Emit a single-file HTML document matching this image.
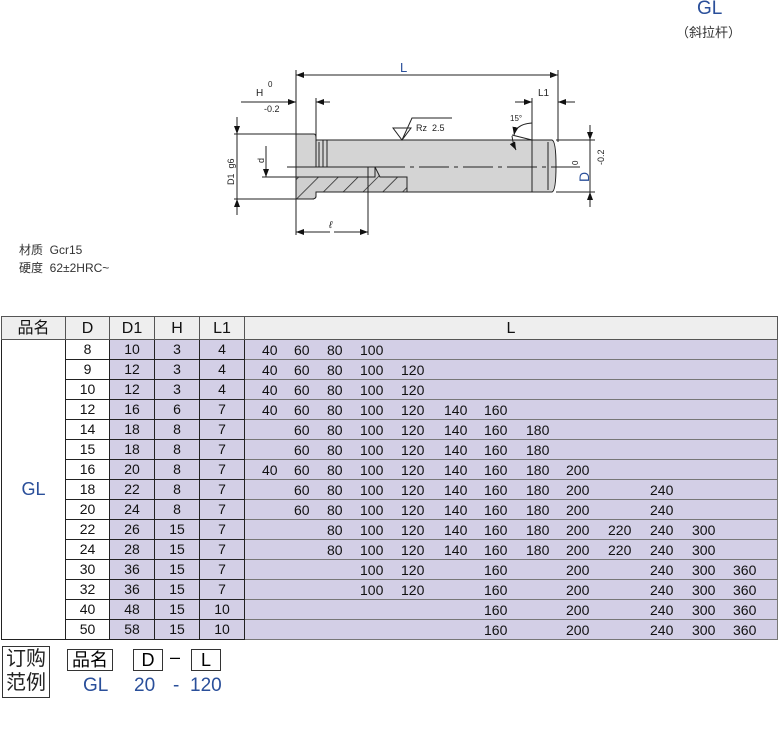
<!DOCTYPE html><html><head><meta charset="utf-8"><style>
body{margin:0;width:780px;height:739px;background:#fff;position:relative;font-family:"Liberation Sans","Noto Sans CJK SC",sans-serif;overflow:hidden}
.a{position:absolute}
table{position:absolute;left:1px;top:316px;border-collapse:collapse;table-layout:fixed;font-size:14px;color:#111}
td{border:1px solid #222;height:19px;padding:0;text-align:center;background:#d3cfe6;line-height:19px}
tr.h td{background:#eee;height:22px;font-size:16px;border-color:#555}
td.w{background:#fff}
td.L{position:relative;text-align:left;border-color:#777}
td.L span{position:absolute;top:1px}
</style></head><body>
<div class="a" style="left:697px;top:-2px;font-size:19px;color:#2a4f9a">GL</div>
<div class="a" style="left:676px;top:22px;font-size:13px;color:#333">（斜拉杆）</div>
<div class="a" style="left:19px;top:241px;font-size:12px;color:#333;line-height:18px">材质&nbsp; Gcr15<br>硬度&nbsp; 62±2HRC~</div>
<svg class="a" style="left:0;top:0" width="780" height="300" font-family="Liberation Sans,sans-serif">
<defs><pattern id="hh" width="14" height="14" patternUnits="userSpaceOnUse" patternTransform="rotate(45)"><rect width="14" height="14" fill="#cfcfcf"/><line x1="0" y1="0" x2="0" y2="14" stroke="#222" stroke-width="1.5"/></pattern>
<marker id="ar" markerWidth="8" markerHeight="6" refX="8" refY="3" orient="auto"><path d="M0,0L8,3L0,6z" fill="#111"/></marker></defs>
<g stroke="#222" stroke-width="1" fill="none">
<!-- body -->
<path d="M296,134H314Q316,134 316,138V140H552Q556,141 556,166Q556,191 552,192H316V196Q316,199 312,199H296Z" fill="#d4d4d4"/>
<path d="M296,167H375L380,177H407V192H316V196Q316,199 312,199H296Z" fill="url(#hh)"/>
<rect x="296" y="167" width="79" height="10" fill="#d4d4d4"/>
<line x1="316" y1="140" x2="316" y2="167"/><line x1="319" y1="142" x2="319" y2="167"/><line x1="323" y1="140" x2="323" y2="167"/><line x1="327" y1="140" x2="327" y2="167"/>
<line x1="532" y1="140" x2="532" y2="192"/><line x1="548" y1="142" x2="548" y2="190"/>
<line x1="287" y1="167" x2="580" y2="167" stroke-dasharray="30,5,4,5"/>
<!-- L dim -->
<line x1="296" y1="70" x2="296" y2="235"/><line x1="558" y1="70" x2="558" y2="142"/>
<line x1="296" y1="75" x2="558" y2="75" marker-end="url(#ar)"/><line x1="558" y1="75" x2="296" y2="75" marker-end="url(#ar)"/>
<!-- H -->
<line x1="316" y1="98" x2="316" y2="140"/>
<line x1="241" y1="102" x2="296" y2="102" marker-end="url(#ar)"/><line x1="330" y1="102" x2="316" y2="102" marker-end="url(#ar)"/>
<!-- L1 -->
<line x1="532" y1="98" x2="532" y2="140"/>
<line x1="515" y1="102" x2="532" y2="102" marker-end="url(#ar)"/><line x1="575" y1="102" x2="558" y2="102" marker-end="url(#ar)"/>
<!-- D1 -->
<line x1="234" y1="134" x2="296" y2="134"/><line x1="234" y1="199" x2="314" y2="199"/>
<line x1="237" y1="117" x2="237" y2="134" marker-end="url(#ar)"/><line x1="237" y1="215" x2="237" y2="199" marker-end="url(#ar)"/><line x1="237" y1="134" x2="237" y2="199"/>
<!-- d -->
<line x1="262" y1="177" x2="296" y2="177"/>
<line x1="266" y1="146" x2="266" y2="177" marker-end="url(#ar)"/>
<!-- D -->
<line x1="556" y1="140" x2="595" y2="140"/><line x1="556" y1="192" x2="595" y2="192"/>
<line x1="590" y1="125" x2="590" y2="140" marker-end="url(#ar)"/><line x1="590" y1="207" x2="590" y2="192" marker-end="url(#ar)"/><line x1="590" y1="140" x2="590" y2="192"/>
<!-- l -->
<line x1="368" y1="167" x2="368" y2="235"/>
<line x1="330" y1="232" x2="296" y2="232" marker-end="url(#ar)"/><line x1="334" y1="232" x2="368" y2="232" marker-end="url(#ar)"/>
<!-- Rz -->
<path d="M393,128H411L402,140Z M402,140L412,118H452"/>
<!-- 15 -->
<path d="M532,123Q516,124 514,135" marker-end="url(#ar)"/><path d="M512,136Q513,144 516,150" marker-end="url(#ar)"/>
<line x1="512" y1="135" x2="532" y2="140"/>
</g>
<g font-size="10" fill="#222">
<text x="400" y="72" font-size="13" fill="#2a4f9a">L</text>
<text x="256" y="96">H</text><text x="268" y="87" font-size="8">0</text><text x="264" y="112" font-size="9">-0.2</text>
<text x="538" y="96">L1</text>
<text x="416" y="131" font-size="9">Rz&#160; 2.5</text>
<text x="510" y="121" font-size="8">15°</text>
<text x="329" y="228" font-style="italic">ℓ</text>
<text transform="translate(234,185) rotate(-90)" font-size="9">D1&#160; g6</text>
<text transform="translate(264,163) rotate(-90)" font-size="9">d</text>
<text transform="translate(589,182) rotate(-90)" font-size="14" fill="#2a4f9a">D</text>
<text transform="translate(604,165) rotate(-90)" font-size="9">-0.2</text>
<text transform="translate(578,165) rotate(-90)" font-size="8">0</text>
</g></svg>
<table>
<colgroup><col style="width:64px"><col style="width:44px"><col style="width:45px"><col style="width:45px"><col style="width:45px"><col style="width:533px"></colgroup>
<tr class="h"><td>品名</td><td>D</td><td>D1</td><td>H</td><td>L1</td><td>L</td></tr>
<tr><td class="w" rowspan="15" style="color:#2a4f9a;font-size:18px;border-color:#222">GL</td><td class="w">8</td><td>10</td><td>3</td><td>4</td><td class="L"><span style="left:17px">40</span><span style="left:49px">60</span><span style="left:82px">80</span><span style="left:115px">100</span></td></tr>
<tr><td class="w">9</td><td>12</td><td>3</td><td>4</td><td class="L"><span style="left:17px">40</span><span style="left:49px">60</span><span style="left:82px">80</span><span style="left:115px">100</span><span style="left:156px">120</span></td></tr>
<tr><td class="w">10</td><td>12</td><td>3</td><td>4</td><td class="L"><span style="left:17px">40</span><span style="left:49px">60</span><span style="left:82px">80</span><span style="left:115px">100</span><span style="left:156px">120</span></td></tr>
<tr><td class="w">12</td><td>16</td><td>6</td><td>7</td><td class="L"><span style="left:17px">40</span><span style="left:49px">60</span><span style="left:82px">80</span><span style="left:115px">100</span><span style="left:156px">120</span><span style="left:199px">140</span><span style="left:239px">160</span></td></tr>
<tr><td class="w">14</td><td>18</td><td>8</td><td>7</td><td class="L"><span style="left:49px">60</span><span style="left:82px">80</span><span style="left:115px">100</span><span style="left:156px">120</span><span style="left:199px">140</span><span style="left:239px">160</span><span style="left:281px">180</span></td></tr>
<tr><td class="w">15</td><td>18</td><td>8</td><td>7</td><td class="L"><span style="left:49px">60</span><span style="left:82px">80</span><span style="left:115px">100</span><span style="left:156px">120</span><span style="left:199px">140</span><span style="left:239px">160</span><span style="left:281px">180</span></td></tr>
<tr><td class="w">16</td><td>20</td><td>8</td><td>7</td><td class="L"><span style="left:17px">40</span><span style="left:49px">60</span><span style="left:82px">80</span><span style="left:115px">100</span><span style="left:156px">120</span><span style="left:199px">140</span><span style="left:239px">160</span><span style="left:281px">180</span><span style="left:321px">200</span></td></tr>
<tr><td class="w">18</td><td>22</td><td>8</td><td>7</td><td class="L"><span style="left:49px">60</span><span style="left:82px">80</span><span style="left:115px">100</span><span style="left:156px">120</span><span style="left:199px">140</span><span style="left:239px">160</span><span style="left:281px">180</span><span style="left:321px">200</span><span style="left:405px">240</span></td></tr>
<tr><td class="w">20</td><td>24</td><td>8</td><td>7</td><td class="L"><span style="left:49px">60</span><span style="left:82px">80</span><span style="left:115px">100</span><span style="left:156px">120</span><span style="left:199px">140</span><span style="left:239px">160</span><span style="left:281px">180</span><span style="left:321px">200</span><span style="left:405px">240</span></td></tr>
<tr><td class="w">22</td><td>26</td><td>15</td><td>7</td><td class="L"><span style="left:82px">80</span><span style="left:115px">100</span><span style="left:156px">120</span><span style="left:199px">140</span><span style="left:239px">160</span><span style="left:281px">180</span><span style="left:321px">200</span><span style="left:363px">220</span><span style="left:405px">240</span><span style="left:447px">300</span></td></tr>
<tr><td class="w">24</td><td>28</td><td>15</td><td>7</td><td class="L"><span style="left:82px">80</span><span style="left:115px">100</span><span style="left:156px">120</span><span style="left:199px">140</span><span style="left:239px">160</span><span style="left:281px">180</span><span style="left:321px">200</span><span style="left:363px">220</span><span style="left:405px">240</span><span style="left:447px">300</span></td></tr>
<tr><td class="w">30</td><td>36</td><td>15</td><td>7</td><td class="L"><span style="left:115px">100</span><span style="left:156px">120</span><span style="left:239px">160</span><span style="left:321px">200</span><span style="left:405px">240</span><span style="left:447px">300</span><span style="left:488px">360</span></td></tr>
<tr><td class="w">32</td><td>36</td><td>15</td><td>7</td><td class="L"><span style="left:115px">100</span><span style="left:156px">120</span><span style="left:239px">160</span><span style="left:321px">200</span><span style="left:405px">240</span><span style="left:447px">300</span><span style="left:488px">360</span></td></tr>
<tr><td class="w">40</td><td>48</td><td>15</td><td>10</td><td class="L"><span style="left:239px">160</span><span style="left:321px">200</span><span style="left:405px">240</span><span style="left:447px">300</span><span style="left:488px">360</span></td></tr>
<tr><td class="w">50</td><td>58</td><td>15</td><td>10</td><td class="L"><span style="left:239px">160</span><span style="left:321px">200</span><span style="left:405px">240</span><span style="left:447px">300</span><span style="left:488px">360</span></td></tr>
</table>
<div class="a" style="left:2px;top:646px;width:46px;height:50px;border:1px solid #333;font-size:20px;line-height:24px;text-align:center;color:#222">订购<br>范例</div>
<div class="a" style="left:67px;top:649px;width:44px;height:20px;border:1px solid #333;font-size:18px;line-height:20px;text-align:center">品名</div>
<div class="a" style="left:133px;top:649px;width:28px;height:20px;border:1px solid #333;font-size:18px;line-height:20px;text-align:center">D</div>
<div class="a" style="left:170px;top:647px;font-size:18px">–</div>
<div class="a" style="left:191px;top:649px;width:28px;height:20px;border:1px solid #333;font-size:18px;line-height:20px;text-align:center">L</div>
<div class="a" style="left:83px;top:675px;font-size:19px;color:#2a4f9a;word-spacing:0">GL</div>
<div class="a" style="left:134px;top:675px;font-size:19px;color:#2a4f9a">20</div>
<div class="a" style="left:173px;top:675px;font-size:19px;color:#2a4f9a">-</div>
<div class="a" style="left:190px;top:675px;font-size:19px;color:#2a4f9a">120</div>
</body></html>
